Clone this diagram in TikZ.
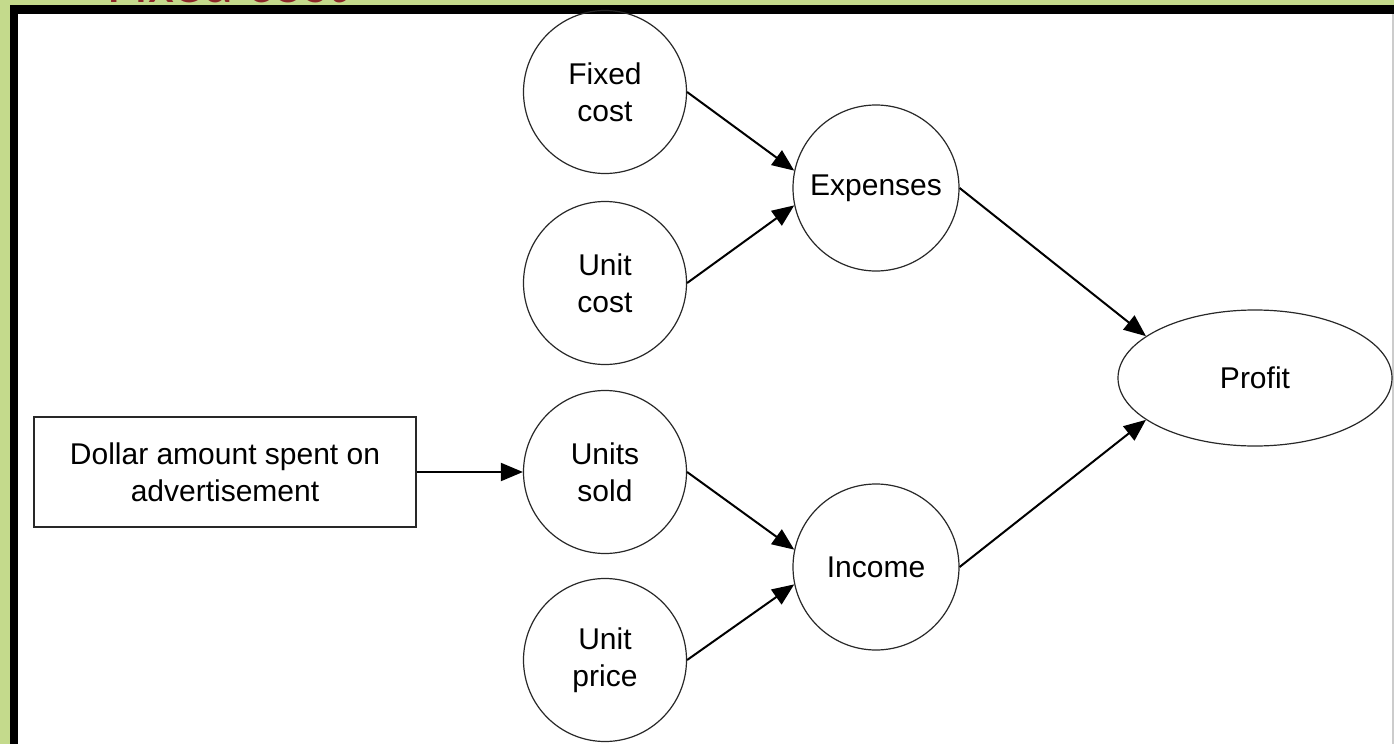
\documentclass[tikz,border=0pt]{standalone}
\usepackage{fontspec}
\setmainfont{Liberation Sans}
\newfontfamily\titlefont{Carlito}
\usetikzlibrary{arrows.meta,shapes.geometric}
\definecolor{slidegreen}{RGB}{196,218,140}
\definecolor{titlered}{RGB}{140,40,40}
\definecolor{outline}{RGB}{40,40,40}
\begin{document}
\begin{tikzpicture}[x=0.5pt,y=-0.5pt,
  every node/.style={font=\fontsize{15}{18.5}\selectfont, align=center, text=black},
  bubble/.style={circle, draw=outline, line width=0.6pt, minimum size=81.5pt, inner sep=0pt},
  profitshape/.style={ellipse, draw=outline, line width=0.6pt, minimum width=137pt, minimum height=68pt, inner sep=0pt},
  boxshape/.style={rectangle, draw=outline, line width=0.9pt, minimum width=191pt, minimum height=55pt, inner sep=0pt},
  link/.style={line width=1pt, -{Triangle[length=11pt,width=9pt]}}]
\useasboundingbox (0,0) rectangle (1394,744);
\clip (0,0) rectangle (1394,744);
\fill[slidegreen] (0,0) rectangle (1394,744);
\node[anchor=base west, font=\titlefont\fontsize{30}{30}\selectfont, text=titlered, inner sep=0pt] (title) at (107,3) {Fixed cost};
\fill[black] (10,5) rectangle (1394,744);
\fill[black!20] (1392,14) rectangle (1394,744);
\fill[white] (18,14) rectangle (1392,744);
\node[bubble] (fixed) at (605,92) {Fixed\\cost};
\node[bubble] (ucost) at (605,283) {Unit\\cost};
\node[bubble] (sold) at (605,472) {Units\\sold};
\node[bubble] (price) at (605,660) {Unit\\price};
\node[circle, draw=outline, line width=0.6pt, minimum size=83pt, inner sep=0pt] (exp) at (876,188) {Expenses};
\node[circle, draw=outline, line width=0.6pt, minimum size=83pt, inner sep=0pt] (inc) at (876,567) {Income};
\node[profitshape] (profit) at (1255,378) {Profit};
\node[boxshape] (box) at (225,472) {Dollar amount spent on\\advertisement};
\draw[link] (fixed.east) -- (exp.168);
\draw[link] (ucost.east) -- (exp.192);
\draw[link] (sold.east) -- (inc.168);
\draw[link] (price.east) -- (inc.192);
\draw[link] (exp.east) -- (profit.159);
\draw[link] (inc.east) -- (profit.201);
\draw[link] (box.east) -- (sold.west);
\end{tikzpicture}
\end{document}
